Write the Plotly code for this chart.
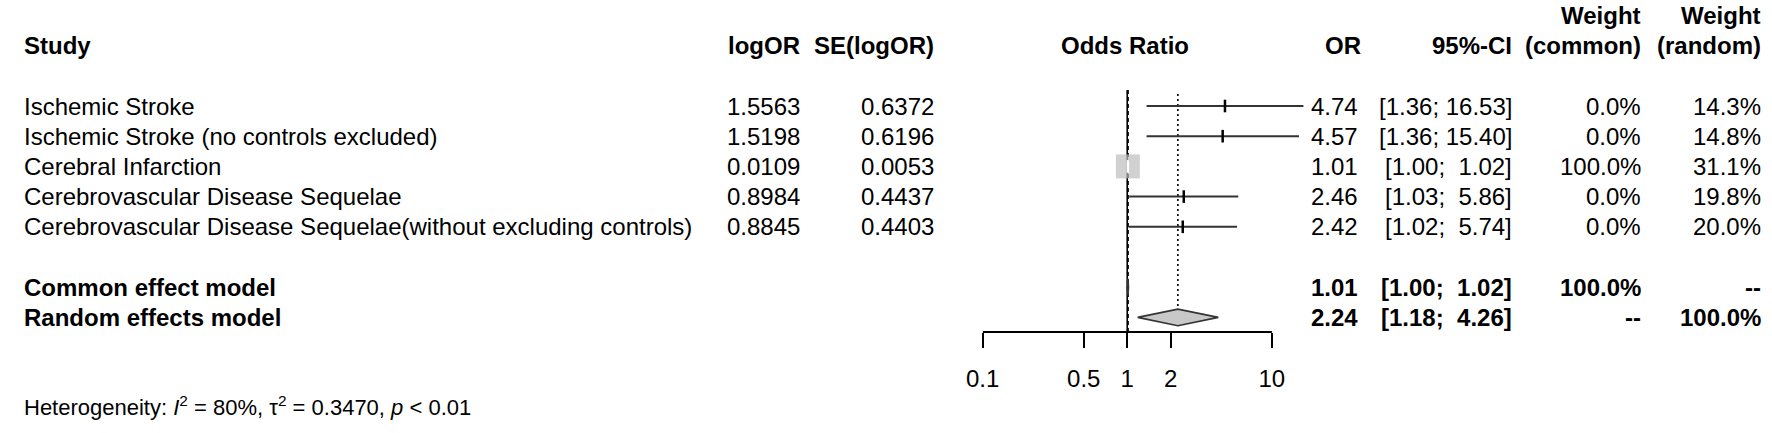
import math
import plotly.graph_objects as go

# ---------------- data ----------------
studies = [
    "Ischemic Stroke",
    "Ischemic Stroke (no controls excluded)",
    "Cerebral Infarction",
    "Cerebrovascular Disease Sequelae",
    "Cerebrovascular Disease Sequelae(without excluding controls)",
]
log_or = [1.5563, 1.5198, 0.0109, 0.8984, 0.8845]
se_log_or = [0.6372, 0.6196, 0.0053, 0.4437, 0.4403]
or_est = [4.74, 4.57, 1.01, 2.46, 2.42]
ci_low = [1.36, 1.36, 1.00, 1.03, 1.02]
ci_high = [16.53, 15.40, 1.02, 5.86, 5.74]
w_common = [0.0, 0.0, 100.0, 0.0, 0.0]
w_random = [14.3, 14.8, 31.1, 19.8, 20.0]

model_labels = ["Common effect model", "Random effects model"]
model_or = [1.01, 2.24]
model_low = [1.00, 1.18]
model_high = [1.02, 4.26]
model_w_common = ["100.0%", "--"]
model_w_random = ["--", "100.0%"]

tick_vals = [0.1, 0.5, 1, 2, 10]
tick_text = ["0.1", "0.5", "1", "2", "10"]
heterogeneity = ("Heterogeneity: <i>I</i><sup>2</sup> = 80%, \u03c4<sup>2</sup> = 0.3470, "
                 "<i>p</i> &lt; 0.01")

# ---------------- layout helpers ----------------
W, H = 1772, 433
FONT = "Liberation Sans, Arial, sans-serif"
FS = 24
ROW0_PX, ROW_STEP = 106.0, 30.2       # pixel of row 0 and row spacing
AXIS_PX = 332.0                       # pixel of forest x-axis line
X01_PX, DEC_PX = 975.0, 146.0         # pixel of OR=0.1, pixels per decade
XR_PX = 1312.0                        # right edge of forest x domain


def px_to_row(p):
    return (p - ROW0_PX) / ROW_STEP


study_rows = list(range(len(studies)))
model_rows = [len(studies) + 1, len(studies) + 2]
header_row = -2
header_top_row = -3
axis_row = px_to_row(AXIS_PX)
het_row = px_to_row(406)

fig = go.Figure()

# invisible anchor trace for the text axis (x2)
fig.add_trace(go.Scatter(x=[0, W], y=[0, 0], mode="markers", marker=dict(size=0, opacity=0),
                         xaxis="x2", yaxis="y", hoverinfo="skip", showlegend=False))

ANCH = {"L": "left", "R": "right", "C": "center"}


def txt(xs, ys, texts, anchor, bold=False, size=FS):
    for x, y, t in zip(xs, ys, texts):
        if bold:
            t = "<b>%s</b>" % t
        fig.add_annotation(
            x=x, y=y, xref="x2", yref="y", text=t, showarrow=False,
            xanchor=ANCH[anchor], yanchor="middle", borderpad=0,
            font=dict(family=FONT, size=size, color="black"))


def fmt_ci(lo, hi):
    s_lo = "%.2f" % lo
    s_hi = "%.2f" % hi
    pad = "\u00a0" * max(0, 5 - len(s_hi))
    return "[%s;%s %s]" % (s_lo, pad, s_hi)


X_STUDY, X_LOGOR, X_SE, X_OR, X_CI, X_WC, X_WR = 6, 792, 927, 1355, 1510, 1641, 1762

# ---------------- headers ----------------
txt([X_STUDY], [header_row], ["Study"], "L", bold=True)
txt([X_LOGOR], [header_row], ["logOR"], "R", bold=True)
txt([X_SE], [header_row], ["SE(logOR)"], "R", bold=True)
txt([1119], [header_row], ["Odds Ratio"], "C", bold=True)
txt([X_OR + 3], [header_row], ["OR"], "R", bold=True)
txt([X_CI], [header_row], ["95%-CI"], "R", bold=True)
txt([X_WC, X_WR], [header_top_row] * 2, ["Weight", "Weight"], "R", bold=True)
txt([X_WC, X_WR], [header_row] * 2, ["(common)", "(random)"], "R", bold=True)

# ---------------- study rows ----------------
n = len(studies)
txt([X_STUDY] * n, study_rows, studies, "L")
txt([X_LOGOR] * n, study_rows, ["%.4f" % v for v in log_or], "R")
txt([X_SE] * n, study_rows, ["%.4f" % v for v in se_log_or], "R")
txt([X_OR] * n, study_rows, ["%.2f" % v for v in or_est], "R")
txt([X_CI] * n, study_rows, [fmt_ci(a, b) for a, b in zip(ci_low, ci_high)], "R")
txt([X_WC] * n, study_rows, ["%.1f%%" % v for v in w_common], "R")
txt([X_WR] * n, study_rows, ["%.1f%%" % v for v in w_random], "R")

# ---------------- model rows ----------------
txt([X_STUDY] * 2, model_rows, model_labels, "L", bold=True)
txt([X_OR] * 2, model_rows, ["%.2f" % v for v in model_or], "R", bold=True)
txt([X_CI] * 2, model_rows, [fmt_ci(a, b) for a, b in zip(model_low, model_high)], "R", bold=True)
txt([X_WC] * 2, model_rows, model_w_common, "R", bold=True)
txt([X_WR] * 2, model_rows, model_w_random, "R", bold=True)

txt([X_STUDY], [het_row], [heterogeneity], "L", size=22)

# ---------------- forest graphics ----------------
def fline(xs, ys, color="black", width=2, dash=None):
    fig.add_trace(go.Scatter(
        x=xs, y=ys, mode="lines", line=dict(color=color, width=width, dash=dash),
        xaxis="x", yaxis="y", hoverinfo="skip", showlegend=False, cliponaxis=False))


top_row = px_to_row(90)
# reference line at OR = 1
fline([1, 1], [top_row, axis_row], width=1.6)
# common effect (dashed)
fline([model_or[0]] * 2, [top_row, axis_row], width=2, dash="4px,3px")
# random effects (dotted)
fline([model_or[1]] * 2, [px_to_row(94), model_rows[1] - 0.28], width=1.6, dash="2px,3px")

# CI lines
cx, cy = [], []
for lo, hi, r in zip(ci_low, ci_high, study_rows):
    cx += [lo, hi, None]
    cy += [r, r, None]
fline(cx, cy, color="#333333", width=2)

# squares (size by common weight)
sq_x = [o for o, w in zip(or_est, w_common) if w > 0]
sq_y = [r for r, w in zip(study_rows, w_common) if w > 0]
sq_s = [24 * math.sqrt(w / 100.0) for w in w_common if w > 0]
fig.add_trace(go.Scatter(
    x=sq_x, y=sq_y, mode="markers",
    marker=dict(symbol="square", size=sq_s, color="#BEBEBE", line=dict(width=0)),
    xaxis="x", yaxis="y", hoverinfo="skip", showlegend=False, cliponaxis=False))

# estimate ticks
fig.add_trace(go.Scatter(
    x=or_est, y=study_rows, mode="markers",
    marker=dict(symbol="line-ns", size=9,
                line=dict(width=2.5, color=["white" if w > 0 else "black" for w in w_common])),
    xaxis="x", yaxis="y", hoverinfo="skip", showlegend=False, cliponaxis=False))

# diamonds
hh = 0.275
for o, lo, hi, r in zip(model_or, model_low, model_high, model_rows):
    fig.add_trace(go.Scatter(
        x=[lo, o, hi, o, lo], y=[r, r - hh, r, r + hh, r], mode="lines",
        fill="toself", fillcolor="#C8C8C8", line=dict(color="#333333", width=1.6),
        xaxis="x", yaxis="y", hoverinfo="skip", showlegend=False, cliponaxis=False))

# axis line
fline([tick_vals[0], tick_vals[-1]], [axis_row, axis_row], width=2)

# ---------------- axes ----------------
y_top = px_to_row(0)
y_bot = px_to_row(H)
x_lo = -1.0
x_hi = x_lo + (XR_PX - X01_PX) / DEC_PX

fig.update_layout(
    width=W, height=H,
    margin=dict(l=0, r=0, t=0, b=0),
    paper_bgcolor="white", plot_bgcolor="rgba(0,0,0,0)",
    showlegend=False,
    font=dict(family=FONT, size=FS, color="black"),
    xaxis=dict(
        type="log", domain=[X01_PX / W, XR_PX / W], range=[x_lo, x_hi],
        anchor="free", position=(H - AXIS_PX) / H,
        showline=False, showgrid=False, zeroline=False,
        tickmode="array", tickvals=tick_vals, ticktext=tick_text,
        ticks="outside", ticklen=15, tickwidth=2, tickcolor="black",
        ticklabelstandoff=10,
        tickfont=dict(family=FONT, size=FS, color="black"),
    ),
    xaxis2=dict(
        domain=[0, 1], range=[0, W], anchor="y", visible=False,
        showgrid=False, zeroline=False,
    ),
    yaxis=dict(
        domain=[0, 1], range=[y_bot, y_top], visible=False,
        showgrid=False, zeroline=False,
    ),
)

fig.write_html(
    "out.html",
    config={"displayModeBar": False},
    post_script="document.body.style.margin='0';document.body.style.overflow='hidden';",
)
